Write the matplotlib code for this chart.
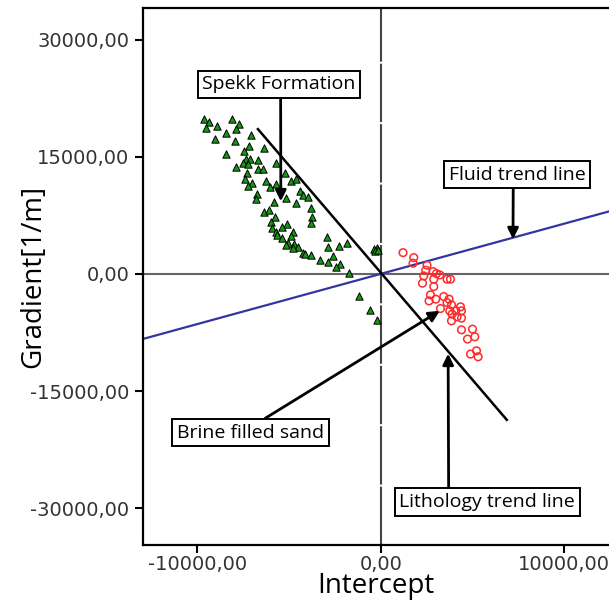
import matplotlib
matplotlib.use("Agg")
import matplotlib.pyplot as plt

# Spekk Formation (triangulos verdes)
spekk_x = [-9655, -9382, -9524, -8923, -8103, -7742, -7885, -8431, -9054, -7961,
           -7103, -7174, -6393, -7469, -8431, -7376, -7158, -6704, -7524, -7251,
           -5699, -7885, -6704, -6431, -7284, -5245, -7431, -6284, -7010, -5699,
           -4879, -4606, -7251, -6065, -4388, -4246, -3972, -6737, -6792, -5191,
           -5830, -4606, -3787, -6393, -6103, -3754, -5792, -3787, -5972, -5098,
           -5393, -5939, -5699, -4792, -5644, -4879, -5371, -2934, -5065, -4737,
           -5191, -2880, -2295, -1841, -4519, -4792, -4246, -4114, -3825, -2606,
           -3333, -2880, -2240, -2459, -382, -202, -328, -148, -1732, -1186,
           -601, -180]
spekk_y = [19786, 19479, 18712, 18929, 19786, 19223, 18507, 17996, 17305, 17011,
           17778, 16371, 16077, 15732, 15386, 14670, 14670, 14542, 14235, 14031,
           14235, 13685, 13391, 13391, 12956, 12956, 12112, 11895, 11677, 11549,
           11895, 12112, 11255, 11127, 10616, 10104, 9848, 10194, 9554, 9759,
           9247, 9119, 8403, 7930, 8147, 7329, 7290, 6485, 6689, 6433,
           6050, 5922, 5410, 5372, 4988, 4860, 4566, 4732, 4003, 3799,
           3709, 3492, 3581, 4003, 3453, 3287, 2724, 2520, 2392, 2302,
           1791, 1573, 1317, 934, 3159, 3287, 2942, 3031, 166, -2814,
           -4643, -5922]

# Brine filled sand (circulos rojos)
brine_x = [1218, 1803, 1765, 2530, 2459, 2858, 3224, 3043, 2350, 2896,
           3623, 3808, 2279, 2896, 2716, 3442, 3005, 2639, 3732, 3623,
           3863, 4355, 3262, 3770, 4098, 4409, 3896, 4169, 4409, 3863,
           4409, 5011, 5136, 4737, 5229, 4901, 5317]
brine_y = [2724, 2085, 1369, 1113, 473, 294, -128, 38, -256, -678,
           -678, -678, -1189, -1624, -2686, -2903, -3236, -3453, -3236, -3671,
           -3965, -4221, -4438, -4732, -4732, -4732, -5154, -5500, -5666, -6011,
           -7162, -7073, -8058, -8352, -9848, -10270, -10616]

fluid_x = [-13500, 13000]
fluid_y = [-8670, 8350]
lito_x = [-6700, 6880]
lito_y = [18540, -18690]

xticks = [-10000, 0, 10000]
xlabels = ["-10000,00", "0,00", "10000,00"]
yticks = [-30000, -15000, 0, 15000, 30000]
ylabels = ["-30000,00", "-15000,00", "0,00", "15000,00", "30000,00"]

fig = plt.figure(figsize=(6.09, 6.04), dpi=100)
ax = fig.add_axes([0.234, 0.098, 0.766, 0.888])

ax.axhline(0, color="#666666", lw=1.5, zorder=1)
ax.axvline(0, color="#444444", lw=1.5, dashes=(28, 1), zorder=1)

ax.plot(fluid_x, fluid_y, color="#3535a0", lw=1.6, zorder=2)
ax.plot(lito_x, lito_y, color="black", lw=1.8, zorder=2)

ax.scatter(spekk_x, spekk_y, marker="^", s=28, c="#139a13", edgecolors="black",
           linewidths=0.7, zorder=3)
ax.scatter(brine_x, brine_y, marker="o", s=30, facecolors="none", edgecolors="#ff2a2a",
           linewidths=1.1, zorder=3)

caja = dict(boxstyle="square,pad=0.24", fc="white", ec="black", lw=1.4)
flecha = dict(arrowstyle="-|>", color="black", lw=2, mutation_scale=16, shrinkA=0, shrinkB=0)
fuente = dict(family="Open Sans", fontsize=14, ha="center", va="center", zorder=5)

ax.annotate("Spekk Formation", xy=(-5450, 9300), xytext=(-5546, 24300),
            bbox=caja, arrowprops=dict(flecha, relpos=(0.51, 0)), **fuente)
ax.annotate("Fluid trend line", xy=(7220, 4450), xytext=(7458, 12730),
            bbox=caja, arrowprops=dict(flecha, relpos=(0.47, 0)), **fuente)
ax.annotate("Brine filled sand", xy=(3224, -4732), xytext=(-7103, -20340),
            bbox=caja, arrowprops=dict(flecha, relpos=(0.54, 1)), **fuente)
ax.annotate("Lithology trend line", xy=(3680, -10230), xytext=(5819, -29230),
            bbox=caja, arrowprops=dict(flecha, relpos=(0.28, 1)), **fuente)

ax.set_xlim(-13000, 12460)
ax.set_ylim(-34700, 34000)
ax.set_xticks(xticks)
ax.set_xticklabels(xlabels)
ax.set_yticks(yticks)
ax.set_yticklabels(ylabels)
ax.tick_params(labelsize=14, colors="black", labelcolor="#333333", length=6, width=1.5)
ax.tick_params(axis="x", pad=1)
ax.spines["right"].set_visible(False)
for lado in ["left", "top", "bottom"]:
    ax.spines[lado].set_linewidth(1.6)

ax.set_xlabel("Intercept", family="Open Sans", fontsize=20, labelpad=-1)
ax.set_ylabel("Gradient[1/m]", family="Open Sans", fontsize=20)
ax.yaxis.set_label_coords(-0.205, 0.5)

plt.savefig("out.png", dpi=100)
